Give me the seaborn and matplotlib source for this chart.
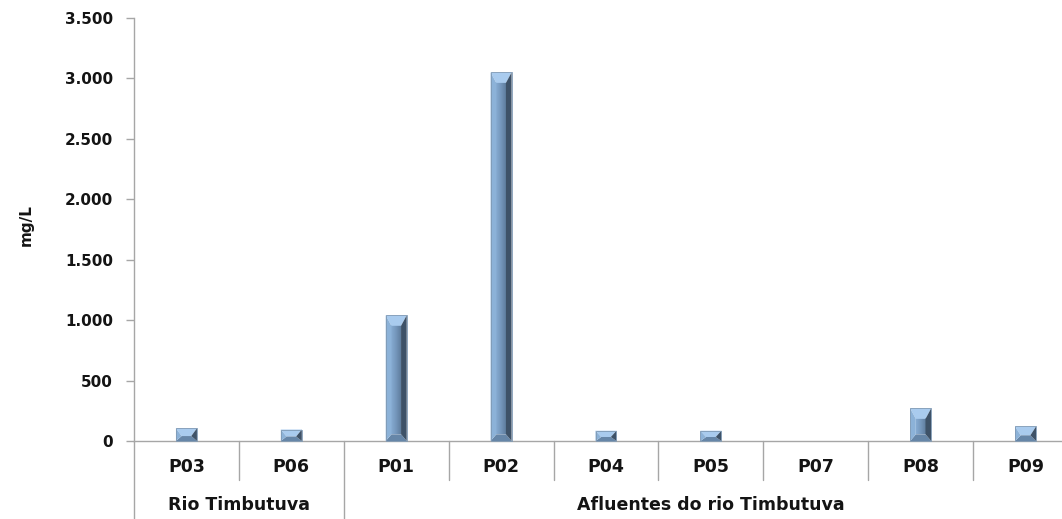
import numpy as np
import pandas as pd
import matplotlib
matplotlib.use("Agg")
import matplotlib.pyplot as plt
import matplotlib.transforms as mtransforms
from matplotlib.patches import Polygon
import seaborn as sns

# ---- data ----
categories = ["P03", "P06", "P01", "P02", "P04", "P05", "P07", "P08", "P09"]
groups = ["Rio Timbutuva", "Rio Timbutuva",
          "Afluentes do rio Timbutuva", "Afluentes do rio Timbutuva",
          "Afluentes do rio Timbutuva", "Afluentes do rio Timbutuva",
          "Afluentes do rio Timbutuva", "Afluentes do rio Timbutuva",
          "Afluentes do rio Timbutuva"]
values = [105, 95, 1040, 3050, 85, 85, 0, 270, 120]
y_ticks = [0, 500, 1000, 1500, 2000, 2500, 3000, 3500]
y_label = "mg/L"

sns.set_theme(style="white")
plt.rcParams["font.family"] = ["DejaVu Sans"]

W, H, DPI = 1062, 519, 100
fig = plt.figure(figsize=(W / DPI, H / DPI), dpi=DPI)
ax_left, ax_right, ax_bottom, ax_top = 134, 1078, 441, 18
ax = fig.add_axes([ax_left / W, 1 - ax_bottom / H,
                   (ax_right - ax_left) / W, (ax_bottom - ax_top) / H])

df = pd.DataFrame({"cat": categories, "val": values})
sns.barplot(data=df, x="cat", y="val", order=categories, color="#7b9cc0",
            width=0.2, ax=ax, linewidth=0, saturation=1)

ax.set_xlim(-0.5, len(categories) - 0.5)
ax.set_ylim(0, 3500)
ax.set_yticks(y_ticks)
ax.set_yticklabels([f"{v:,.0f}".replace(",", ".") for v in y_ticks],
                   fontsize=11, fontweight="bold", color="#141414")
ax.tick_params(axis="y", direction="out", length=6, width=1, color="#a6a6a6",
               pad=9, left=True)
ax.tick_params(axis="x", length=0, labelbottom=False)
ax.set_xlabel("")
ax.set_ylabel("")
for s in ["top", "right"]:
    ax.spines[s].set_visible(False)
for s in ["left", "bottom"]:
    ax.spines[s].set_color("#a6a6a6")
    ax.spines[s].set_linewidth(1)

fig.text(26 / W, 1 - 225 / H, y_label, rotation=90, ha="center", va="center",
         fontsize=11, fontweight="bold", color="#141414")

# ---- beveled bars ----
fig.canvas.draw()
to_px = ax.transData.transform
ident = mtransforms.IdentityTransform()
c_top = "#a9cbee"
c_left = "#8cb2d8"
c_right = "#3e5268"
c_bottom = "#6686a8"
cmap = matplotlib.colors.LinearSegmentedColormap.from_list(
    "g", ["#86abd2", "#7597bc", "#5f7d9e"])
for patch in list(ax.patches):
    x0, y0 = patch.get_x(), patch.get_y()
    x1, y1 = x0 + patch.get_width(), y0 + patch.get_height()
    if patch.get_height() <= 0:
        continue
    (px0, py0), (px1, py1) = to_px((x0, y0)), to_px((x1, y1))
    w = px1 - px0
    h = py1 - py0
    bx = 0.27 * w
    bt = 0.5 * w
    bb = 0.32 * w
    if bt + bb > h:
        scale = h / (bt + bb)
        bt_, bb_ = bt * scale, bb * scale
    else:
        bt_, bb_ = bt, bb
    ix0, ix1 = px0 + bx, px1 - bx
    iy0, iy1 = py0 + bb_, py1 - bt_
    polys = [
        ([(px0, py1), (px1, py1), (ix1, iy1), (ix0, iy1)], c_top),
        ([(px0, py0), (px1, py0), (ix1, iy0), (ix0, iy0)], c_bottom),
        ([(px0, py0), (ix0, iy0), (ix0, iy1), (px0, py1)], c_left),
        ([(px1, py0), (ix1, iy0), (ix1, iy1), (px1, py1)], c_right),
    ]
    grad = np.linspace(0, 1, 50).reshape(1, -1)
    if iy1 > iy0:
        im = ax.imshow(grad, cmap=cmap, aspect="auto",
                       extent=(ix0, ix1, iy0, iy1), transform=ident,
                       zorder=3, interpolation="bilinear")
        im.set_clip_on(False)
    for pts, col in polys:
        ax.add_patch(Polygon(pts, closed=True, facecolor=col, edgecolor="none",
                             transform=ident, zorder=3, clip_on=False))
    ax.add_patch(Polygon([(px0, py0), (px1, py0), (px1, py1), (px0, py1)],
                         closed=True, facecolor="none", edgecolor="#7f99b4",
                         linewidth=0.6, transform=ident, zorder=4, clip_on=False))
    patch.set_visible(False)

ax.set_xlim(-0.5, len(categories) - 0.5)
ax.set_ylim(0, 3500)

# ---- multi-level x labels ----
blend = mtransforms.blended_transform_factory(ax.transData, ax.transAxes)
axh = ax_bottom - ax_top
cat_y = -(467 - ax_bottom) / axh
grp_y = -(505 - ax_bottom) / axh
sep_short = -(480 - ax_bottom) / axh
sep_long = -(H + 5 - ax_bottom) / axh
for i, c in enumerate(categories):
    ax.text(i, cat_y, c, transform=blend, ha="center", va="center",
            fontsize=12.5, fontweight="bold", color="#141414")
line_kw = dict(color="#a6a6a6", linewidth=1, transform=blend, clip_on=False)
for i in range(len(categories) - 1):
    b = i + 0.5
    is_group = groups[i] != groups[i + 1]
    ax.plot([b, b], [0, sep_long if is_group else sep_short], **line_kw)
ax.plot([-0.5, -0.5], [0, sep_long], **line_kw)
uniq = []
for g in groups:
    if g not in uniq:
        uniq.append(g)
for g in uniq:
    idx = [i for i, gg in enumerate(groups) if gg == g]
    center = (idx[0] + idx[-1]) / 2
    ax.text(center, grp_y, g, transform=blend, ha="center", va="center",
            fontsize=12.5, fontweight="bold", color="#141414")

fig.savefig("out.png", dpi=DPI, facecolor="white")
